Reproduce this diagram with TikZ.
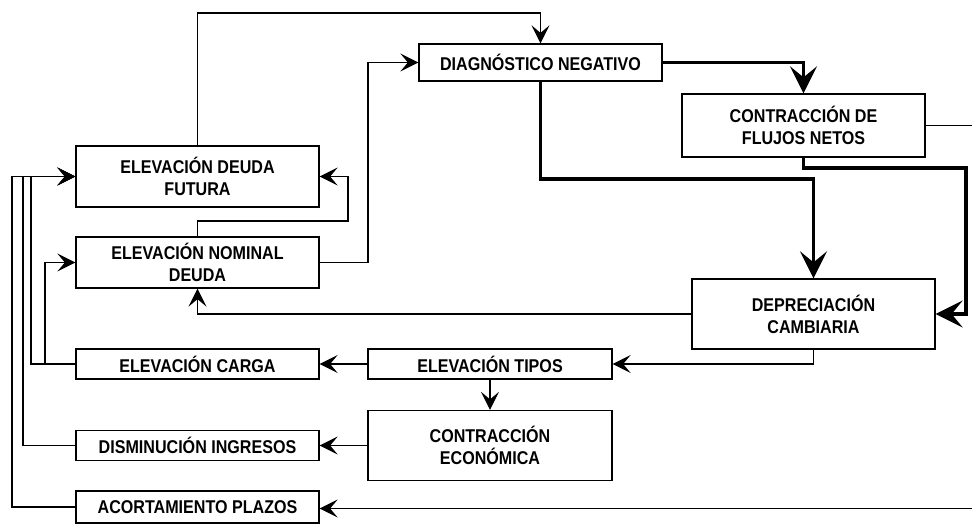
\documentclass[tikz,border=0pt]{standalone}
\usepackage{fontspec}
\setmainfont{Liberation Sans}[FakeStretch=0.87]
\usetikzlibrary{arrows.meta}
\tikzset{
  box/.style={draw, line width=1.3pt, inner sep=0pt, align=center,
    font=\fontsize{18.5}{22}\selectfont\bfseries},
  thinln/.style={line width=1.3pt},
  thinarr/.style={line width=1.3pt, -{Stealth[length=18pt, width=18pt, inset=7.5pt]}},
  thickarr/.style={line width=3.3pt, -{Stealth[length=27pt, width=27pt, inset=11pt]}},
}
\begin{document}
\begin{tikzpicture}[x=1pt, y=-1pt]
\useasboundingbox (0,0) rectangle (972,524);
% boxes
\node[box, minimum width=243pt, minimum height=61pt] (EDF) at (197.5,176.5) {ELEVACIÓN DEUDA\\FUTURA};
\node[box, minimum width=243pt, minimum height=51pt] (END) at (197.5,262.5) {ELEVACIÓN NOMINAL\\DEUDA};
\node[box, minimum width=243pt, minimum height=37pt] (DN) at (540.5,62.5) {DIAGNÓSTICO NEGATIVO};
\node[box, minimum width=243pt, minimum height=63pt] (CFN) at (803.5,125.5) {CONTRACCIÓN DE\\FLUJOS NETOS};
\node[box, minimum width=243pt, minimum height=70pt] (DC) at (813.5,314) {DEPRECIACIÓN\\CAMBIARIA};
\node[box, minimum width=244pt, minimum height=30pt] (ET) at (490,364) {ELEVACIÓN TIPOS};
\node[box, minimum width=243pt, minimum height=30pt] (EC) at (197.5,364) {ELEVACIÓN CARGA};
\node[box, minimum width=244pt, minimum height=70pt] (CE) at (490,445.5) {CONTRACCIÓN\\ECONÓMICA};
\node[box, minimum width=243pt, minimum height=30pt] (DI) at (197.5,445.5) {DISMINUCIÓN INGRESOS};
\node[box, minimum width=243pt, minimum height=32pt] (AP) at (197.5,507) {ACORTAMIENTO PLAZOS};
% edge coordinates
\coordinate (edgeA) at (972,125.5);
\coordinate (edgeB) at (972,508.5);
% thin connectors
\draw[thinarr] (EDF.north) |- (540.5,13) -- (DN.north);
\draw[thinarr] (END.east) -- (368,262.5) |- (DN.west);
\draw[thinarr] (END.north) |- (348,221) |- (EDF.east);
\draw[thinln] (CFN.east) -- (edgeA);
\draw[thinarr] (edgeB) -- (AP.east |- edgeB);
\draw[thinarr] (DC.west) -| (END.south);
\draw[thinarr] (DC.south) |- (ET.east);
\draw[thinarr] (ET.south) -- (CE.north);
\draw[thinarr] (ET.west) -- (EC.east);
\draw[thinarr] (CE.west) -- (DI.east);
\draw[thinarr] (EC.west) -- (31,364) |- (EDF.west);
\draw[thinarr] (EC.west) -- (45,364) |- (END.west);
\draw[thinarr] (DI.west) -- (23,445.5) |- (EDF.west);
\draw[thinarr] (AP.west) -- (12,507) |- (EDF.west);
% thick connectors
\draw[thickarr] (DN.east) -| (CFN.north);
\draw[thickarr] (DN.south) |- (813.5,179) -- (DC.north);
\draw[thickarr] (CFN.south) |- (966,168) |- (DC.east);
\end{tikzpicture}
\end{document}
